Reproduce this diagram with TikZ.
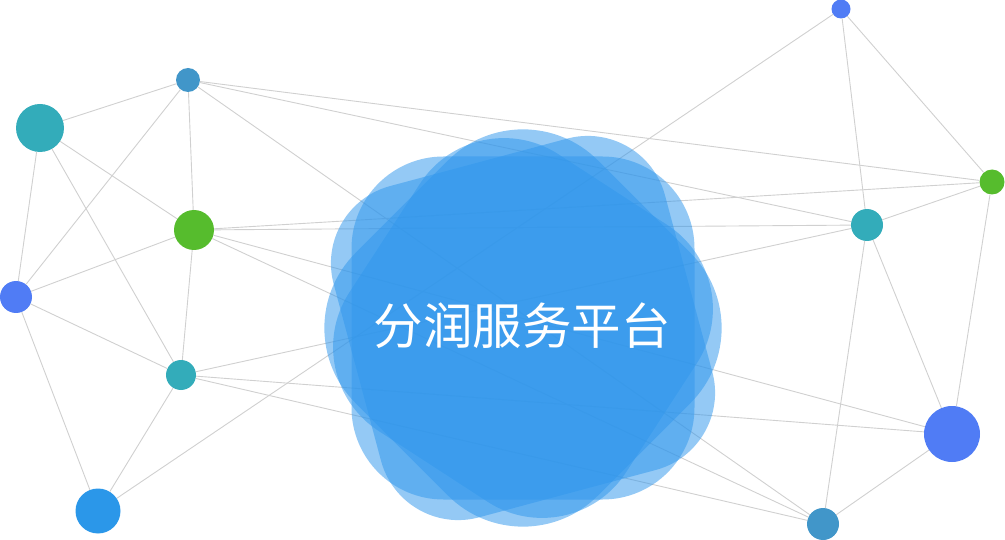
\documentclass[tikz,border=0pt]{standalone}
\usepackage{fontspec}
\newfontfamily\cjk{Noto Sans CJK SC}
\definecolor{edgegray}{RGB}{208,208,208}
\definecolor{blobblue}{RGB}{49,151,236}
\definecolor{cSteel}{RGB}{65,150,201}
\definecolor{cTeal}{RGB}{51,172,186}
\definecolor{cGreen}{RGB}{86,188,45}
\definecolor{cBlue}{RGB}{80,124,245}
\definecolor{cSky}{RGB}{43,151,233}
\tikzset{
  dot/.style={circle, inner sep=0pt, draw=none},
  edge/.style={draw=edgegray, line width=0.9pt},
  petal/.style={rectangle, draw=none, fill=blobblue, fill opacity=0.52, inner sep=0pt,
    minimum width=343pt, minimum height=343pt},
  title/.style={text=white, font=\cjk\fontsize{49.5}{54}\selectfont, inner sep=0pt}
}
\begin{document}
\begin{tikzpicture}[x=1pt,y=-1pt]
\useasboundingbox (0,0) rectangle (1005,540);
% nodes
\node[dot, fill=cSteel, minimum size=24pt] (nA) at (188,80) {};
\node[dot, fill=cTeal,  minimum size=48pt] (nB) at (40,128) {};
\node[dot, fill=cGreen, minimum size=40pt] (nC) at (194,230) {};
\node[dot, fill=cBlue,  minimum size=32pt] (nD) at (16,297) {};
\node[dot, fill=cTeal,  minimum size=30pt] (nE) at (181,375) {};
\node[dot, fill=cSky,   minimum size=45pt] (nF) at (98,511) {};
\node[dot, fill=cBlue,  minimum size=19pt] (nG) at (841,9) {};
\node[dot, fill=cGreen, minimum size=25pt] (nH) at (992,182) {};
\node[dot, fill=cTeal,  minimum size=32pt] (nI) at (867,225) {};
\node[dot, fill=cBlue,  minimum size=56pt] (nJ) at (952,434) {};
\node[dot, fill=cSteel, minimum size=32pt] (nK) at (823,524) {};
% edges
\foreach \u/\v in {nA/nB, nA/nC, nA/nD, nA/nH, nA/nI, nA/nK,
                   nB/nC, nB/nD, nB/nE,
                   nC/nD, nC/nE, nC/nH, nC/nI, nC/nJ, nC/nK,
                   nD/nE, nD/nF,
                   nE/nF, nE/nI, nE/nJ, nE/nK,
                   nF/nG, nG/nH, nG/nI, nH/nI, nH/nJ, nI/nJ, nI/nK, nJ/nK}
  \draw[edge] (\u) -- (\v);
% central blob
\node[petal, rounded corners=92pt, rotate=0]   (p1) at (523,328) {};
\node[petal, rounded corners=80pt, rotate=15]  (p2) at (523,328) {};
\node[petal, rounded corners=106pt, rotate=45] (p3) at (523,328) {};
\node[petal, rounded corners=100pt, rotate=-33, minimum width=330pt, minimum height=330pt] (p4) at (523,328) {};
\node[title] (label) at (522,326) {分润服务平台};
\end{tikzpicture}
\end{document}
